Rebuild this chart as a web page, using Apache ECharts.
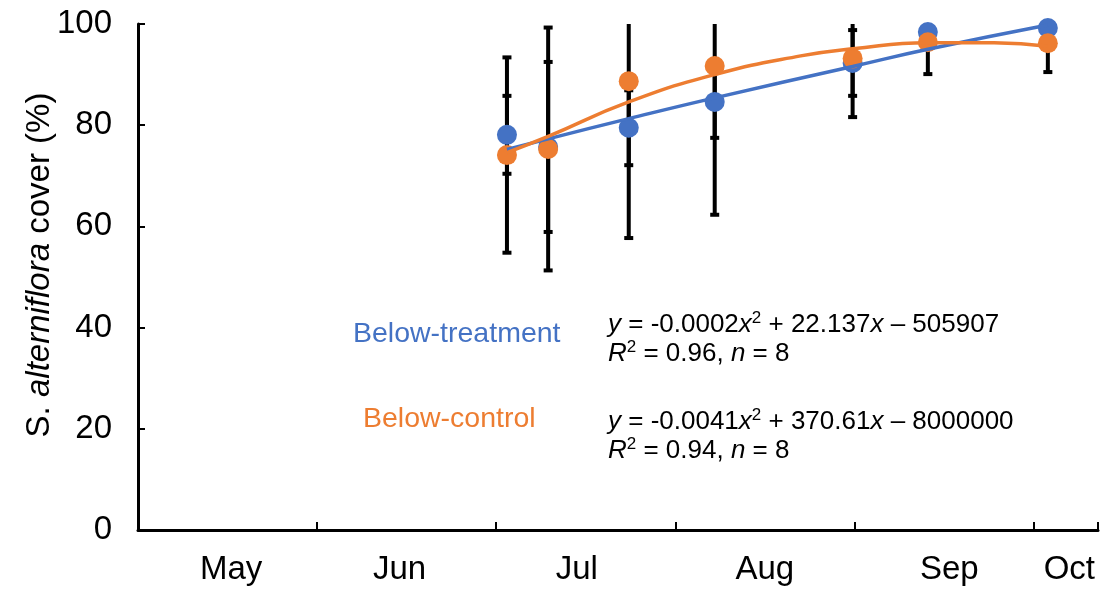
<!DOCTYPE html>
<html lang="en">
<head>
  <meta charset="UTF-8">
  <title>S. alterniflora cover</title>
  <style>
      html, body { margin: 0; padding: 0; background: #fff; }
      #chart { width: 1106px; height: 590px; }
  </style>
</head>
<body>
<div id="chart"></div>
<script src="https://cdn.jsdelivr.net/npm/echarts@6/dist/echarts.min.js"></script>
<script>
  // months counted from 1 May (0 = May 1, 1 = Jun 1 ...)
  const months = ['May', 'Jun', 'Jul', 'Aug', 'Sep', 'Oct'];
  const monthPos = [0.52, 1.46, 2.45, 3.5, 4.53, 5.2];
  const yTicks = [0, 20, 40, 60, 80, 100];

  // sampling dates
  const sampleT = [2.06, 2.29, 2.74, 3.22, 3.99, 4.41, 5.08];

  // Below-treatment
  const treatMean = [78.1, 75.7, 79.5, 84.6, 92.3, 98.4, 99.2];
  const treatErr = [7.7, 16.8, 7.4, 7.1, 6.5, 1.5, 1.5];
  // Below-control
  const ctrlMean = [74.1, 75.3, 88.7, 91.7, 93.2, 96.4, 96.2];
  const ctrlErr = [19.3, 24.0, 31.0, 29.4, 11.6, 6.3, 5.7];

  // fitted curves
  const treatFitT = [2.06, 2.29, 2.74, 3.22, 3.99, 4.41, 5.08];
  const treatFit = [75.2, 77.3, 81.3, 85.4, 91.6, 95.0, 99.8];
  const ctrlFitT = [2.06, 2.29, 2.74, 3.22, 3.70, 3.99, 4.41, 4.78, 5.08];
  const ctrlFit = [74.6, 77.8, 84.6, 90.0, 93.7, 95.1, 96.3, 96.3, 95.6];

  const blue = '#4472C4';
  const orange = '#ED7D31';
  const font = 'Liberation Sans, Arial, sans-serif';

  const pairs = (xs, ys) => xs.map((x, i) => [x, ys[i]]);
  const errData = (m, e) => sampleT.map((t, i) => [t, m[i] - e[i], m[i] + e[i]]);

  function renderErr(params, api) {
    const x = api.value(0);
    const lo = api.coord([x, api.value(1)]);
    const hi = api.coord([x, api.value(2)]);
    const st = { stroke: '#000', lineWidth: 4 };
    const cap = 4.5;
    return {
      type: 'group',
      children: [
        { type: 'line', shape: { x1: lo[0], y1: lo[1], x2: hi[0], y2: hi[1] }, style: st },
        { type: 'line', shape: { x1: lo[0] - cap, y1: lo[1], x2: lo[0] + cap, y2: lo[1] }, style: st },
        { type: 'line', shape: { x1: hi[0] - cap, y1: hi[1], x2: hi[0] + cap, y2: hi[1] }, style: st }
      ]
    };
  }

  const eqRich = {
    i: { fontStyle: 'italic', fontSize: 26, fontFamily: font, color: '#000', lineHeight: 29 },
    s: { fontSize: 17, fontFamily: font, color: '#000', verticalAlign: 'top', lineHeight: 29, padding: [0, 0, 10, 0] },
    n: { fontSize: 26, fontFamily: font, color: '#000', lineHeight: 29 }
  };

  const option = {
    animation: false,
    backgroundColor: '#fff',
    grid: { left: 138, right: 8, top: 24, bottom: 60 },
    xAxis: {
      type: 'value',
      min: 0,
      max: 5.36,
      interval: 1,
      splitLine: { show: false },
      axisLine: { lineStyle: { color: '#000', width: 3 } },
      axisTick: { inside: true, length: 8, lineStyle: { color: '#000', width: 2 } },
      axisLabel: {
        customValues: monthPos,
        margin: 23,
        fontSize: 33,
        fontFamily: font,
        color: '#000',
        formatter: v => {
          const i = monthPos.indexOf(v);
          return i === 4 ? '{up|' + months[i] + '}' : months[i];
        },
        rich: { up: { fontSize: 33, fontFamily: font, color: '#000', padding: [0, 0, 9, 0] } }
      }
    },
    yAxis: {
      type: 'value',
      min: 0,
      max: 100,
      interval: 20,
      splitLine: { show: false },
      axisLine: { show: true, lineStyle: { color: '#000', width: 3 } },
      axisTick: { show: true, inside: true, length: 7, lineStyle: { color: '#000', width: 2 } },
      axisLabel: {
        margin: 26,
        fontSize: 33,
        fontFamily: font,
        color: '#000',
        formatter: v => yTicks.indexOf(v) >= 0 ? String(v) : ''
      }
    },
    series: [
      {
        type: 'custom', name: 'treatErr', renderItem: renderErr, clip: true, z: 1,
        data: errData(treatMean, treatErr)
      },
      {
        type: 'custom', name: 'ctrlErr', renderItem: renderErr, clip: true, z: 1,
        data: errData(ctrlMean, ctrlErr)
      },
      {
        type: 'scatter', name: 'Below-treatment', symbolSize: 20, z: 2,
        itemStyle: { color: blue, opacity: 1 },
        data: pairs(sampleT, treatMean)
      },
      {
        type: 'scatter', name: 'Below-control', symbolSize: 20, z: 3,
        itemStyle: { color: orange, opacity: 1 },
        data: pairs(sampleT, ctrlMean)
      },
      {
        type: 'line', smooth: 0.5, showSymbol: false, z: 4,
        lineStyle: { color: blue, width: 3.5 },
        data: pairs(treatFitT, treatFit)
      },
      {
        type: 'line', smooth: 0.5, showSymbol: false, z: 4,
        lineStyle: { color: orange, width: 3.5 },
        data: pairs(ctrlFitT, ctrlFit)
      }
    ],
    graphic: [
      {
        type: 'text', x: 40, y: 265, rotation: Math.PI / 2,
        style: {
          text: 'S. {i|alterniflora} cover (%)',
          fontSize: 33, fontFamily: font, fill: '#000',
          align: 'center', verticalAlign: 'middle',
          rich: { i: { fontStyle: 'italic', fontSize: 33, fontFamily: font } }
        }
      },
      {
        type: 'text', x: 353, y: 334,
        style: { text: 'Below-treatment', fontSize: 28.5, fontFamily: font, fill: blue, verticalAlign: 'middle' }
      },
      {
        type: 'text', x: 363, y: 419,
        style: { text: 'Below-control', fontSize: 28.5, fontFamily: font, fill: orange, verticalAlign: 'middle' }
      },
      {
        type: 'text', x: 608, y: 310,
        style: {
          text: '{i|y}{n| = -0.0002}{i|x}{s|2}{n| + 22.137}{i|x}{n| \u2013 505907}\n{i|R}{s|2}{n| = 0.96, }{i|n}{n| = 8}',
          rich: eqRich
        }
      },
      {
        type: 'text', x: 608, y: 407,
        style: {
          text: '{i|y}{n| = -0.0041}{i|x}{s|2}{n| + 370.61}{i|x}{n| \u2013 8000000}\n{i|R}{s|2}{n| = 0.94, }{i|n}{n| = 8}',
          rich: eqRich
        }
      }
    ]
  };

  const chart = echarts.init(document.getElementById('chart'));
  chart.setOption(option);
</script>
</body>
</html>
